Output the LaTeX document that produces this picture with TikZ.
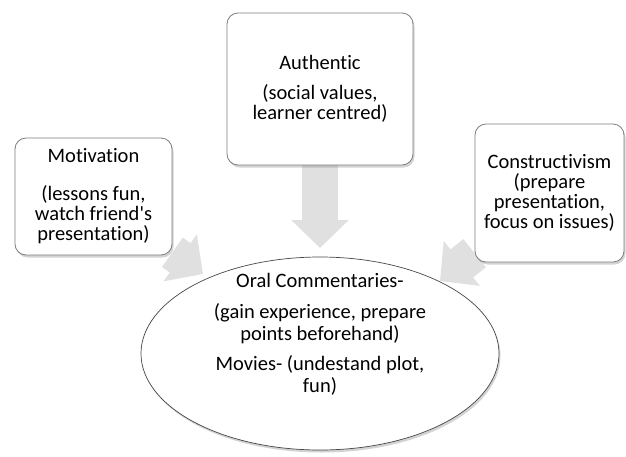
\documentclass[tikz,border=0pt]{standalone}
\usepackage{fontspec}
\setmainfont{Carlito}[Ligatures={NoCommon,NoRequired,NoContextual}]
\usetikzlibrary{shapes.geometric,shadows,arrows.meta,backgrounds}
\definecolor{boxline}{RGB}{125,125,125}
\definecolor{ovalline}{RGB}{70,70,70}
\definecolor{arrowfill}{RGB}{224,224,224}
\tikzstyle{every node}=[font=\fontsize{20.5}{20}\selectfont, align=center, inner sep=0pt]
\tikzstyle{topic}=[draw=boxline, fill=white, rounded corners=11pt, line width=0.8pt,
  drop shadow={opacity=0.35, shadow xshift=1.5pt, shadow yshift=-2.5pt}]
\tikzstyle{oval}=[ellipse, draw=ovalline, fill=white, line width=0.7pt,
  drop shadow={opacity=0.35, shadow xshift=1.5pt, shadow yshift=-2.5pt}]
\tikzstyle{feed}=[arrowfill, line width=36pt, -{Triangle[width=56pt,length=28pt]}]

\begin{document}
\begin{tikzpicture}[x=1pt, y=-1pt]
            \useasboundingbox (0,0) rectangle (626,456);
            % the three boxes
            \node[topic, minimum width=157pt, minimum height=117pt] (motivation) at (93.5,196.5)
              {Motivation\\[18pt](lessons fun,\\watch friend\textquotesingle s\\presentation)};
            \node[topic, minimum width=186pt, minimum height=152pt] (authentic) at (320,89)
              {Authentic\\[10pt](social values,\\learner centred)};
            \node[topic, minimum width=149pt, minimum height=138pt] (constructivism) at (549.5,193)
              {Constructivism\\(prepare\\presentation,\\focus on issues)};
            % the oval in the middle
            \node[oval, minimum width=358pt, minimum height=193pt] (oral) at (320,353.5) {};
            \node[font=\fontsize{20.5}{22}\selectfont] (oraltext) at ([yshift=19pt]oral.center)
              {Oral Commentaries-\\[9pt](gain experience, prepare\\points beforehand)\\[8pt]Movies- (undestand plot,\\fun)};
            % arrows behind everything
            \coordinate (tipM) at (203,274);
            \coordinate (tipA) at (320,248);
            \coordinate (tipC) at (440,281);
            \begin{pgfonlayer}{background}
              \draw[feed] (motivation) -- (tipM);
              \draw[feed] (authentic) -- (tipA);
              \draw[feed] (constructivism) -- (tipC);
            \end{pgfonlayer}
        \end{tikzpicture}
\end{document}
